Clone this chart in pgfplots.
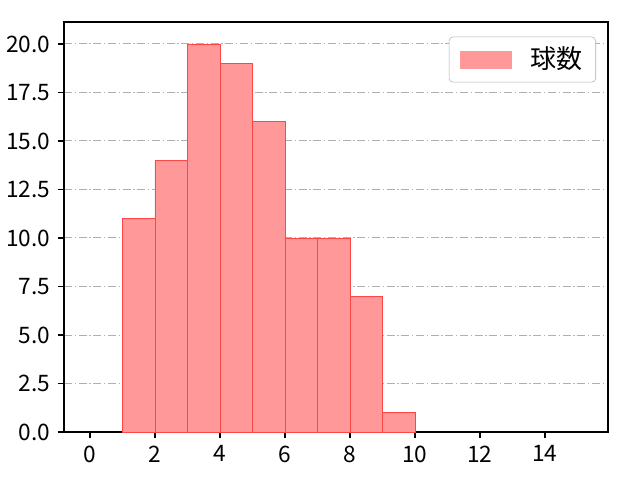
\documentclass[border=0pt]{standalone}
\usepackage{pgfplots}
\pgfplotsset{compat=1.18}
\usepackage{fontspec}
\setmainfont{Noto Sans CJK JP}
\definecolor{barfill}{RGB}{255,153,153}
\definecolor{baredge}{RGB}{255,70,70}
\definecolor{gridc}{RGB}{176,176,176}
\begin{document}
\fontsize{17}{20}\selectfont
\begin{tikzpicture}
\useasboundingbox (-48pt,-36pt) rectangle (432pt,324pt);
\begin{axis}[
  at={(0,0)}, anchor=south west,
  scale only axis,
  width=408pt, height=307.5pt,
  xmin=-0.8, xmax=15.94,
  ymin=0, ymax=21.13,
  xtick={0,2,...,14},
  ytick={0,2.5,...,20},
  yticklabel style={/pgf/number format/.cd,fixed,fixed zerofill,precision=1},
  /pgf/number format/assume math mode=true,
  tick align=outside,
  major tick length=4.5pt,
  tick style={black, line width=1pt},
  axis line style={line width=1.2pt},
  xtick pos=bottom, ytick pos=left,
  ymajorgrids,
  grid style={gridc, dash pattern=on 6pt off 2pt on 1pt off 2pt, line width=0.7pt},
  ticklabel style={font=\fontsize{17}{20}\selectfont},
  legend style={at={(1,1)}, xshift=-9pt, yshift=-11pt, anchor=north east, draw=gridc, rounded corners=3pt,
    font=\fontsize{19.5}{23}\selectfont, inner xsep=8pt, inner ysep=5.5pt},
  legend image code/.code={\draw[sharp corners, draw=none, fill=barfill] (0pt,-6.8pt) rectangle (39pt,6.8pt);},
  legend cell align=left,
]
\addplot[ybar interval, fill=barfill, draw=baredge, line width=0.6pt] coordinates {
(1,11) (2,14) (3,20) (4,19) (5,16) (6,10) (7,10) (8,7) (9,1) (10,1)
};
\addlegendentry{\hspace{12pt}球数}
\end{axis}
\end{tikzpicture}
\end{document}
